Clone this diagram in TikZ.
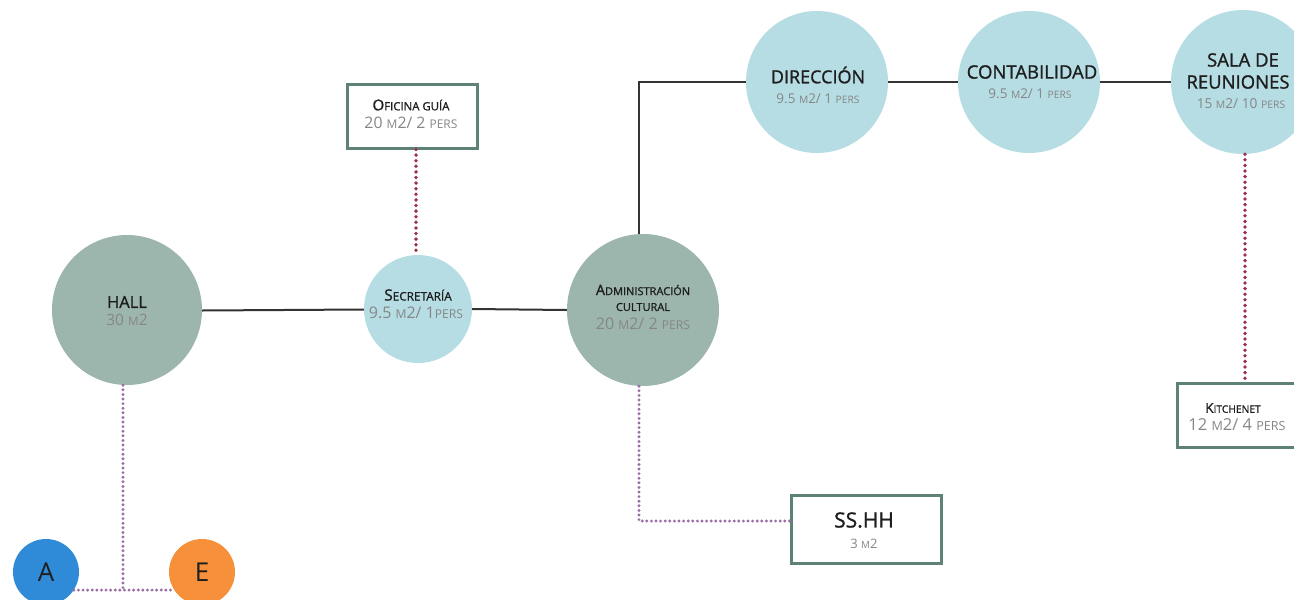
\documentclass[tikz,border=0pt]{standalone}
\usepackage{fontspec}
\setmainfont{Open Sans}
\newfontfamily\medfont{Open Sans}[FakeBold=1.2]
\usepackage{graphicx}
\definecolor{sage}{HTML}{9CB6AD}
\definecolor{sky}{HTML}{B5DDE3}
\definecolor{boxgreen}{HTML}{5E8376}
\definecolor{dotred}{HTML}{9E2F4C}
\definecolor{dotpurple}{HTML}{9A6CA6}
\definecolor{linegray}{HTML}{333333}
\definecolor{namecol}{HTML}{1E1E1E}
\definecolor{areacol}{HTML}{868686}
\definecolor{ablue}{HTML}{2F8BD8}
\definecolor{eorange}{HTML}{F7903A}
\newcommand\smc[1]{\scalebox{0.76}{#1}}
\newcommand\fsz[1]{\fontsize{#1}{#1}\selectfont}
\tikzset{
  circ/.style={circle, inner sep=0pt, draw=none},
  roombox/.style={draw=boxgreen, line width=3pt, fill=white, inner sep=0pt},
  link/.style={draw=linegray, line width=2pt},
  reddots/.style={draw=dotred, line width=3.8pt, line cap=round, dash pattern=on 0pt off 5.6pt},
  purpdots/.style={draw=dotpurple, line width=3.2pt, line cap=round, dash pattern=on 0pt off 4.6pt},
  nm/.style={text=namecol, inner sep=0pt, anchor=center},
  ar/.style={text=areacol, inner sep=0pt, anchor=center},
}
\begin{document}
\begin{tikzpicture}[x=1pt,y=-1pt]
\useasboundingbox (0,0) rectangle (1294,600);
\clip (0,0) rectangle (1294,600);
% shapes
\node[circ, fill=sage, minimum size=150pt] (hall) at (127,310) {};
\node[circ, fill=sky, minimum size=108pt] (sec) at (418,309) {};
\node[circ, fill=sage, minimum size=152pt] (adm) at (643,310) {};
\node[circ, fill=sky, minimum size=142pt] (dir) at (817,82) {};
\node[circ, fill=sky, minimum size=142pt] (con) at (1029,82) {};
\node[circ, fill=sky, minimum size=144pt] (sala) at (1243,82) {};
\node[roombox, minimum width=130pt, minimum height=64pt] (ofi) at (412,116) {};
\node[roombox, minimum width=150pt, minimum height=68pt] (ssh) at (866,529) {};
\node[roombox, minimum width=119pt, minimum height=64pt] (kit) at (1236.5,415) {};
\node[circ, fill=ablue, minimum size=66pt, text=namecol, font=\fsz{26}] (A) at (46,572) {A};
\node[circ, fill=eorange, minimum size=66pt, text=namecol, font=\fsz{26}] (E) at (202,572) {E};
\coordinate (j) at (123,590);
% connectors
\draw[link] ([yshift=-0.5pt]hall.east) -- ([yshift=-0.5pt]sec.west);
\draw[link] (sec.east) -- (adm.west);
\draw[link] ([xshift=-4pt]adm.north) |- (dir.west);
\draw[link] (dir.east) -- (con.west);
\draw[link] (con.east) -- (sala.west);
\draw[reddots] ([xshift=-2pt]sec.north |- ofi.south) -- ([xshift=-2pt]sec.north);
\draw[reddots] ([xshift=2pt]sala.south) -- ([xshift=2pt]sala.south |- kit.north);
\draw[purpdots] ([xshift=-4pt]hall.south) -- (j);
\draw[purpdots] (A.-33) -- (E.-147);
\draw[purpdots] ([xshift=-4pt]adm.south) |- ([yshift=8pt]ssh.west);
% texts
\node[nm, font=\medfont\fsz{16.5}] (hallN) at (127,302) {HALL};
\node[ar, font=\fsz{15.5}] (hallA) at (127,320) {30 \smc{M}2};
\node[nm, font=\medfont\fsz{15.5}] (secN) at (418,295) {S\smc{ECRETARÍA}};
\node[ar, font=\fsz{16}] (secA) at (416,313) {9.5 \smc{M}2/ 1\smc{PERS}};
\node[nm, font=\medfont\fsz{14.5}] (admN) at (643,290) {A\smc{DMINISTRACIÓN}};
\node[nm, font=\medfont\fsz{14.5}] (admC) at (643,307) {\smc{CULTURAL}};
\node[ar, font=\fsz{16}] (admA) at (643,324) {20 \smc{M}2/ 2 \smc{PERS}};
\node[nm, font=\medfont\fsz{18}] (dirN) at (818,75) {DIRECCIÓN};
\node[ar, font=\fsz{13.5}] (dirA) at (818,99) {9.5 \smc{M}2/ 1 \smc{PERS}};
\node[nm, font=\medfont\fsz{18.5}] (conN) at (1032,72) {CONTABILIDAD};
\node[ar, font=\fsz{13.5}] (conA) at (1030,94) {9.5 \smc{M}2/ 1 \smc{PERS}};
\node[nm, font=\medfont\fsz{18.5}] (salaN1) at (1243,60) {SALA DE};
\node[nm, font=\medfont\fsz{18.5}] (salaN2) at (1238,82) {REUNIONES};
\node[ar, font=\fsz{13.7}] (salaA) at (1241,104) {15 \smc{M}2/ 10 \smc{PERS}};
\node[nm, font=\medfont\fsz{15}] (ofiN) at (411,105) {O\smc{FICINA GUÍA}};
\node[ar, font=\fsz{15.8}] (ofiA) at (411,123) {20 \smc{M}2/ 2 \smc{PERS}};
\node[nm, font=\medfont\fsz{13.5}] (kitN) at (1233,408) {K\smc{ITCHENET}};
\node[ar, font=\fsz{16.5}] (kitA) at (1237,425) {12 \smc{M}2/ 4 \smc{PERS}};
\node[nm, font=\medfont\fsz{21}] (sshN) at (864,520) {SS.HH};
\node[ar, font=\fsz{13}] (sshA) at (864,544) {3 \smc{M}2};
\end{tikzpicture}
\end{document}
